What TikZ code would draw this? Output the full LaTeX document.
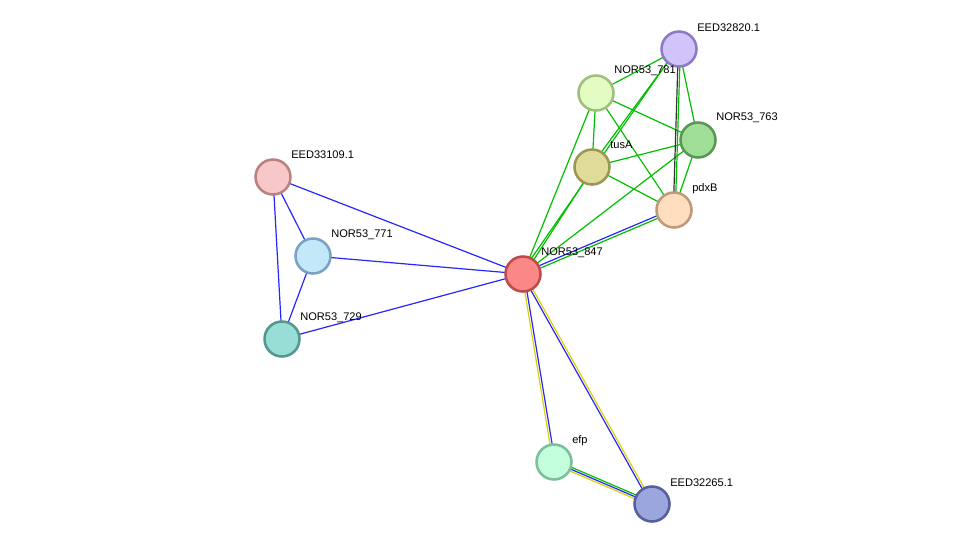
\documentclass[tikz,border=0pt]{standalone}
\usepackage{fontspec}
\setmainfont{Liberation Sans}
\usetikzlibrary{calc}
\begin{document}
\begin{tikzpicture}[x=0.75pt,y=-0.75pt,
 prot/.style={circle,minimum size=26.25pt,inner sep=0pt,line width=1.9pt},
 lab/.style={anchor=west,font=\fontsize{8.3pt}{9pt}\selectfont,inner sep=0pt},
 e/.style={line width=0.9pt},
 eg/.style={e,draw=green!75!black},
 eb/.style={e,draw=blue!85!white},
 ey/.style={e,draw=yellow!70!olive},
 ek/.style={e,draw=gray!40!black}]
\useasboundingbox (0,0) rectangle (976,550);
\coordinate (c20) at (679,49);
\coordinate (c81) at (596,93);
\coordinate (c63) at (698,140);
\coordinate (ctu) at (592,167);
\coordinate (cpd) at (674,210);
\coordinate (c47) at (523,274);
\coordinate (c09) at (273,177);
\coordinate (c71) at (313,256);
\coordinate (c29) at (282,339);
\coordinate (cef) at (554,462);
\coordinate (c65) at (652,504);
\newcommand\pline[4]{\draw[#1] ($(#2)!#4!90:(#3)$) -- ($(#3)!#4!-90:(#2)$);}
% green cluster
\foreach \a/\b in {c81/c20,c81/c63,c81/cpd,c81/ctu,c81/c47,c20/c63,c63/ctu,c63/cpd,c63/c47,ctu/cpd}
  \draw[eg] (\a) -- (\b);
\pline{eg}{ctu}{c20}{1pt}
\pline{eg}{c47}{c20}{1.5pt}
\pline{eg}{c47}{ctu}{-1pt}
\pline{eg}{c20}{cpd}{1pt}
\pline{ek}{c20}{cpd}{-0.5pt}
\pline{eb}{c47}{cpd}{1pt}
\pline{eg}{c47}{cpd}{-1pt}
% blue left
\foreach \a/\b in {c09/c71,c09/c29,c71/c29,c09/c47,c71/c47,c29/c47}
  \draw[eb] (\a) -- (\b);
\pline{eb}{c47}{cef}{0.8pt}
\pline{ey}{c47}{cef}{-0.8pt}
\pline{eb}{c47}{c65}{-0.8pt}
\pline{ey}{c47}{c65}{0.8pt}
\pline{ey}{cef}{c65}{-1.5pt}
\pline{eb}{cef}{c65}{0pt}
\pline{eg}{cef}{c65}{1.5pt}
% nodes
\node[prot,fill={rgb,255:red,208;green,196;blue,250},draw={rgb,255:red,140;green,122;blue,196}] (n20) at (c20) {};
\node[prot,fill={rgb,255:red,226;green,252;blue,196},draw={rgb,255:red,160;green,190;blue,125}] (n81) at (c81) {};
\node[prot,fill={rgb,255:red,158;green,222;blue,150},draw={rgb,255:red,90;green,150;blue,85}] (n63) at (c63) {};
\node[prot,fill={rgb,255:red,222;green,220;blue,152},draw={rgb,255:red,155;green,150;blue,85}] (ntu) at (ctu) {};
\node[prot,fill={rgb,255:red,255;green,222;blue,192},draw={rgb,255:red,190;green,155;blue,120}] (npd) at (cpd) {};
\node[prot,fill={rgb,255:red,252;green,135;blue,135},draw={rgb,255:red,190;green,75;blue,75}] (n47) at (c47) {};
\node[prot,fill={rgb,255:red,248;green,200;blue,200},draw={rgb,255:red,185;green,130;blue,130}] (n09) at (c09) {};
\node[prot,fill={rgb,255:red,195;green,232;blue,250},draw={rgb,255:red,120;green,162;blue,195}] (n71) at (c71) {};
\node[prot,fill={rgb,255:red,152;green,222;blue,214},draw={rgb,255:red,85;green,150;blue,142}] (n29) at (c29) {};
\node[prot,fill={rgb,255:red,195;green,255;blue,220},draw={rgb,255:red,125;green,190;blue,155}] (nef) at (cef) {};
\node[prot,fill={rgb,255:red,155;green,165;blue,222},draw={rgb,255:red,85;green,95;blue,155}] (n65) at (c65) {};
% labels
\node[lab] (l20) at (697,28) {EED32820.1};
\node[lab] (l81) at (614,71) {NOR53\_781};
\node[lab] (l63) at (716,118) {NOR53\_763};
\node[lab] (ltu) at (610,145) {tusA};
\node[lab] (lpd) at (692,189) {pdxB};
\node[lab] (l47) at (541,253) {NOR53\_847};
\node[lab] (l09) at (291,155) {EED33109.1};
\node[lab] (l71) at (331,235) {NOR53\_771};
\node[lab] (l29) at (300,318) {NOR53\_729};
\node[lab] (lef) at (572,441) {efp};
\node[lab] (l65) at (670,483) {EED32265.1};
\end{tikzpicture}
\end{document}
